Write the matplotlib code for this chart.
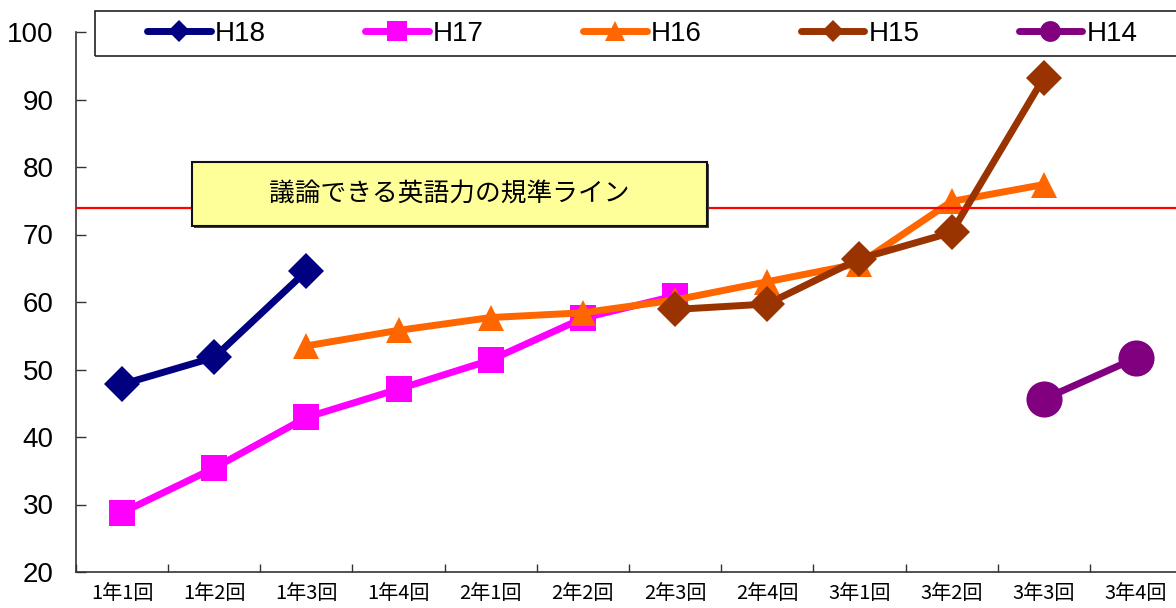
import numpy as np
import matplotlib.pyplot as plt
from matplotlib.patches import Rectangle

plt.rcParams['font.family'] = ['Liberation Sans', 'Noto Sans CJK JP', 'DejaVu Sans']

nan = np.nan

categories = ['1年1回', '1年2回', '1年3回', '1年4回', '2年1回', '2年2回',
              '2年3回', '2年4回', '3年1回', '3年2回', '3年3回', '3年4回']

h18 = [47.8, 51.8, 64.6, nan, nan, nan, nan, nan, nan, nan, nan, nan]
h17 = [28.8, 35.4, 42.9, 47.1, 51.4, 57.6, 60.9, nan, nan, nan, nan, nan]
h16 = [nan, nan, 53.5, 55.8, 57.7, 58.4, 60.3, 63.0, 65.7, 74.9, 77.4, nan]
h15 = [nan, nan, nan, nan, nan, nan, 58.9, 59.7, 66.4, 70.3, 93.2, nan]
h14 = [nan, nan, nan, nan, nan, nan, nan, nan, nan, nan, 45.6, 51.7]

series_names = ['H18', 'H17', 'H16', 'H15', 'H14']
series_values = [h18, h17, h16, h15, h14]
series_colors = ['#000080', '#FF00FF', '#FF6600', '#993300', '#800080']
series_markers = ['D', 's', '^', 'D', 'o']

standard_line = 74
standard_label = '議論できる英語力の規準ライン'

# marker sizes on the plot and in the legend
plot_ms = {'D': 18, 's': 18.5, '^': 19, 'o': 26}
legend_ms = {'D': 11, 's': 15, '^': 15, 'o': 15}

W, H = 1176, 608
fig = plt.figure(figsize=(W / 100, H / 100), dpi=100)
ax = fig.add_axes([76 / W, 36 / H, 1106 / W, 540 / H])

x = np.arange(len(categories))
for name, vals, col, mk in zip(series_names, series_values,
                               series_colors, series_markers):
    ax.plot(x, vals, color=col, lw=5, marker=mk, ms=plot_ms[mk],
            mew=0, label=name, solid_capstyle='round', zorder=3)

ax.axhline(standard_line, color='#FF0000', lw=1.6, zorder=6)

ax.set_xlim(-0.5, len(categories) - 0.5)
ax.set_ylim(20, 100)
ax.set_yticks(range(20, 101, 10))

ax.set_xticks(x)
ax.set_xticklabels(categories, fontsize=14.5, family=['Noto Sans CJK JP', 'DejaVu Sans'])
ax.set_xticks(np.arange(-0.5, len(categories), 1), minor=True)
ax.tick_params(axis='x', which='major', length=0, pad=8)
ax.tick_params(axis='x', which='minor', direction='in', length=6,
               width=1, color='#333333')
ax.tick_params(axis='y', direction='in', length=7, width=1, color='#333333',
               labelsize=20, pad=16)

for side in ['top', 'right']:
    ax.spines[side].set_visible(False)
for side in ['left', 'bottom']:
    ax.spines[side].set_color('#333333')
    ax.spines[side].set_linewidth(1.2)

# legend frame drawn separately so it runs off the right edge
fig.patches.append(Rectangle((95 / W, (H - 56) / H), 1120 / W, 45 / H,
                             transform=fig.transFigure, fill=False,
                             edgecolor='#222222', lw=1.2))
leg = fig.legend(loc='center left', bbox_to_anchor=(147 / W, (H - 34) / H),
                 ncol=5, frameon=False, fontsize=20, borderpad=0,
                 borderaxespad=0, handlelength=2.3, handletextpad=0.15,
                 columnspacing=3.56)
for line, mk in zip(leg.get_lines(), series_markers):
    line.set_markersize(legend_ms[mk])
    line.set_solid_capstyle('round')

# label box for the standard line
fig.patches.append(Rectangle((194 / W, (H - 228) / H), 515 / W, 64 / H,
                             transform=fig.transFigure, facecolor='#444444',
                             edgecolor='none', zorder=7))
fig.patches.append(Rectangle((192 / W, (H - 226) / H), 515 / W, 64 / H,
                             transform=fig.transFigure, facecolor='#FFFF99',
                             edgecolor='#111111', lw=1.5, zorder=8))
fig.text(449 / W, (H - 194) / H, standard_label, ha='center', va='center',
         fontsize=18.5, family=['Noto Sans CJK JP', 'DejaVu Sans'], zorder=9)

fig.savefig('out.png', dpi=100)
